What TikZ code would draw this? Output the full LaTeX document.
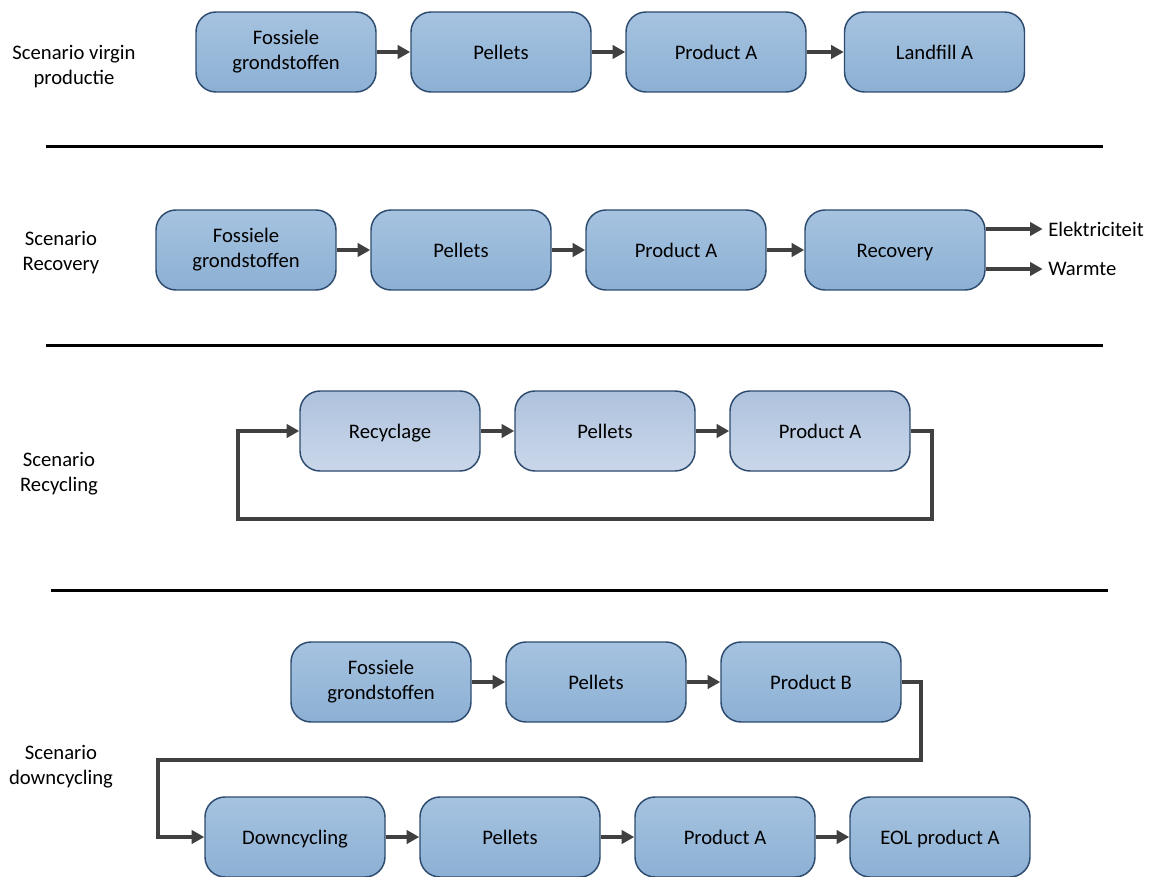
\documentclass[tikz,border=0pt]{standalone}
\usepackage{fontspec}
\setmainfont{Carlito}
\usetikzlibrary{arrows.meta}

\definecolor{boxtop}{RGB}{166,195,224}
\definecolor{boxbot}{RGB}{140,176,212}
\definecolor{rectop}{RGB}{174,194,221}
\definecolor{recbot}{RGB}{202,215,234}
\definecolor{boxline}{RGB}{45,75,110}
\definecolor{pijlgrijs}{RGB}{64,64,64}

\tikzset{
  proces/.style={draw=boxline, line width=1.1pt, rounded corners=15pt,
    minimum width=135pt, minimum height=60pt, top color=boxtop, bottom color=boxbot,
    align=center, text height=11pt, text depth=0pt,
    font=\fontsize{15.5}{18.75}\selectfont},
  tweeregels/.style={text height={}, text depth={}},
  procesrec/.style={proces, top color=rectop, bottom color=recbot},
  pijl/.style={draw=pijlgrijs, line width=2.4pt, -{Triangle[length=9.5pt,width=10pt]}},
  scheiding/.style={draw=black, line width=2.25pt},
  scenario/.style={align=center, font=\fontsize{15.5}{18.75}\selectfont},
  uitvoer/.style={anchor=west, inner sep=0pt, font=\fontsize{15.5}{18.75}\selectfont}
}

\begin{document}
\begin{tikzpicture}[x=0.75pt,y=-0.75pt]
  \useasboundingbox (0,0) rectangle (1153,877);

  % virgin productie
  \node[scenario] (s1) at (74,67) {Scenario virgin\\productie};
  \node[proces,tweeregels] (v1) at (286,52) {Fossiele\\grondstoffen};
  \node[proces] (v2) at (501,52) {Pellets};
  \node[proces] (v3) at (716,52) {Product A};
  \node[proces] (v4) at (934.5,52) {Landfill A};
  \draw[pijl] (v1) -- (v2);
  \draw[pijl] (v2) -- (v3);
  \draw[pijl] (v3) -- (v4);

  \draw[scheiding] (46,147) -- (1103,147);

  % recovery
  \node[scenario] (s2) at (61,253) {Scenario\\Recovery};
  \node[proces,tweeregels] (r1) at (246,250) {Fossiele\\grondstoffen};
  \node[proces] (r2) at (461,250) {Pellets};
  \node[proces] (r3) at (676,250) {Product A};
  \node[proces] (r4) at (895,250) {Recovery};
  \draw[pijl] (r1) -- (r2);
  \draw[pijl] (r2) -- (r3);
  \draw[pijl] (r3) -- (r4);
  \node[uitvoer] (elek) at (1048,229) {Elektriciteit};
  \node[uitvoer] (warm) at (1048,269) {Warmte};
  \draw[pijl, shorten >=4pt] (r4.east |- elek) -- (elek.west);
  \draw[pijl, shorten >=4pt] (r4.east |- warm) -- (warm.west);

  \draw[scheiding] (46,345) -- (1103,345);

  % recycling
  \node[scenario] (s3) at (59,474) {Scenario\\Recycling};
  \node[procesrec] (c1) at (390,431) {Recyclage};
  \node[procesrec] (c2) at (605,431) {Pellets};
  \node[procesrec] (c3) at (820,431) {Product A};
  \draw[pijl] (c1) -- (c2);
  \draw[pijl] (c2) -- (c3);
  \draw[pijl] (c3.east) -- (932,431) -- (932,519) -- (238,519) -- (238,431) -- (c1.west);

  \draw[scheiding] (51,590) -- (1108,590);

  % downcycling
  \node[scenario] (s4) at (61,767) {Scenario\\downcycling};
  \node[proces,tweeregels] (d1) at (381,682) {Fossiele\\grondstoffen};
  \node[proces] (d2) at (596,682) {Pellets};
  \node[proces] (d3) at (811,682) {Product B};
  \node[proces] (d4) at (295,837) {Downcycling};
  \node[proces] (d5) at (510,837) {Pellets};
  \node[proces] (d6) at (725,837) {Product A};
  \node[proces] (d7) at (940,837) {EOL product A};
  \draw[pijl] (d1) -- (d2);
  \draw[pijl] (d2) -- (d3);
  \draw[pijl] (d3.east) -- (921,682) -- (921,760) -- (158,760) -- (158,837) -- (d4.west);
  \draw[pijl] (d4) -- (d5);
  \draw[pijl] (d5) -- (d6);
  \draw[pijl] (d6) -- (d7);
\end{tikzpicture}
\end{document}
